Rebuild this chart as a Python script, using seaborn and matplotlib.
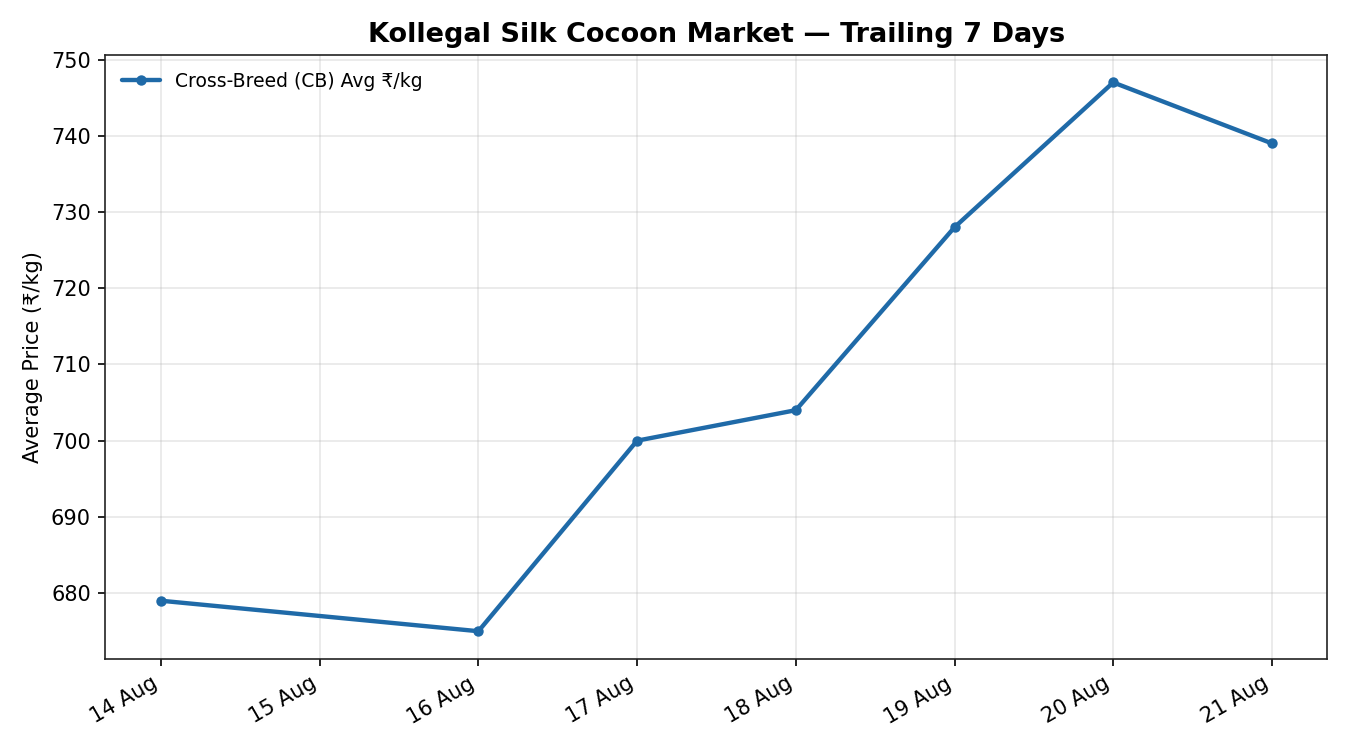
import pandas as pd
import seaborn as sns
import matplotlib
matplotlib.use("Agg")
from matplotlib import pyplot as plt
import matplotlib.dates as mdates

# trailing 7 days (no auction on 15 Aug)
dates = ["2024-08-14", "2024-08-16", "2024-08-17", "2024-08-18",
         "2024-08-19", "2024-08-20", "2024-08-21"]
cb_avg_price = [679, 675, 700, 704, 728, 747, 739]

df = pd.DataFrame({"date": pd.to_datetime(dates), "price": cb_avg_price})

sns.set_style("ticks", {"grid.color": "#b0b0b0", "text.color": "black",
                        "axes.labelcolor": "black", "xtick.color": "black",
                        "ytick.color": "black", "axes.edgecolor": "#222222"})
plt.rcParams['font.family'] = ['DejaVu Sans']

fig, ax = plt.subplots(figsize=(9, 5), dpi=150)
sns.lineplot(data=df, x="date", y="price", ax=ax, color="#1f6aa8",
             linewidth=2.1, marker="o", markersize=5, markeredgewidth=0,
             label="Cross-Breed (CB) Avg ₹/kg")

ax.xaxis.set_major_locator(mdates.DayLocator())
ax.xaxis.set_major_formatter(mdates.DateFormatter("%d Aug"))
ax.grid(True, alpha=0.3)
for s in ax.spines.values():
    s.set_visible(True)

ax.set_title("Kollegal Silk Cocoon Market — Trailing 7 Days",
             fontsize=13, fontweight="bold")
ax.set_xlabel("")
ax.set_ylabel("Average Price (₹/kg)")
ax.legend(loc="upper left", frameon=False, fontsize=9)
fig.autofmt_xdate()

fig.tight_layout()
fig.savefig("out.png")
